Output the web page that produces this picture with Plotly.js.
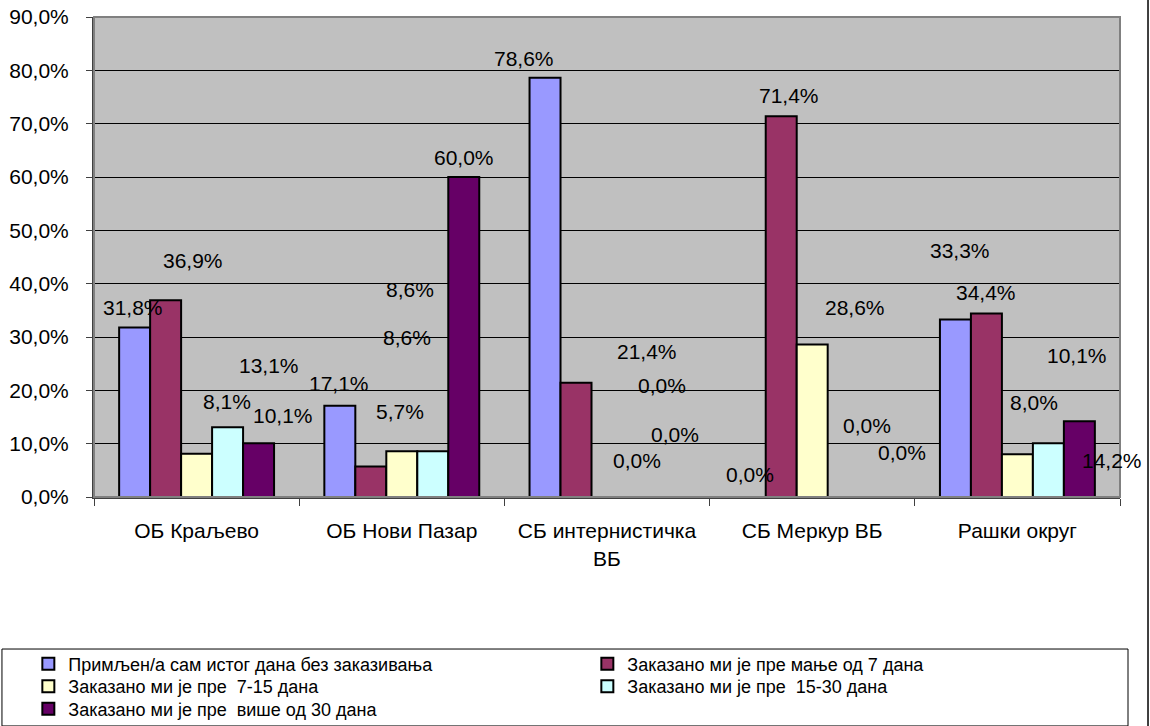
<!DOCTYPE html>
<html>
<head>
<meta charset="utf-8">
<script src="https://cdn.plot.ly/plotly-3.0.1.min.js"></script>
<style>html,body{margin:0;padding:0;background:#fff;}#chart{width:1150px;height:726px;}</style>
</head>
<body>
<div id="chart"></div>
<script>
// ---- data ----
const categories = ['ОБ Краљево', 'ОБ Нови Пазар', 'СБ интернистичка ВБ', 'СБ Меркур ВБ', 'Рашки округ'];
const seriesNames = [
  'Примљен/а сам истог дана без заказивања',
  'Заказано ми је пре мање од 7 дана',
  'Заказано ми је пре  7-15 дана',
  'Заказано ми је пре  15-30 дана',
  'Заказано ми је пре  више од 30 дана'
];
const sameDay     = [31.8, 17.1, 78.6, 0.0, 33.3];
const lessThan7   = [36.9, 5.7, 21.4, 71.4, 34.4];
const days7to15   = [8.1, 8.6, 0.0, 28.6, 8.0];
const days15to30  = [13.1, 8.6, 0.0, 0.0, 10.1];
const moreThan30  = [10.1, 60.0, 0.0, 0.0, 14.2];
const yTicks = [0, 10, 20, 30, 40, 50, 60, 70, 80, 90];

// ---- styling ----
const seriesValues = [sameDay, lessThan7, days7to15, days15to30, moreThan30];
const colors = ['#9999FF', '#993366', '#FFFFCC', '#CCFFFF', '#660066'];
const legendRow = ['legend', 'legend', 'legend2', 'legend2', 'legend3'];
const FONT = 'Liberation Sans, Arial, sans-serif';
const fmt = v => v.toFixed(1).replace('.', ',') + '%';

// label placement (as in original, labels are displaced from the bars) [xCategoryOffset, yValue]
const labelPlacement = [
  [[-0.31, 35.6], [0.694, 21.2], [1.596, 82.3], [2.697, 4.3], [3.720, 46.3]],
  [[-0.02, 44.4], [0.991, 16.1], [2.195, 27.2], [2.887, 75.2], [3.847, 38.4]],
  [[0.148, 18.0], [1.025, 30.0], [2.146, 6.9], [3.209, 35.6], [4.081, 17.8]],
  [[0.353, 24.6], [1.040, 39.0], [2.268, 21.0], [3.267, 13.5], [4.290, 26.6]],
  [[0.421, 15.2], [1.303, 63.75], [2.331, 11.8], [3.438, 8.4], [4.461, 6.9]]
];

const traces = seriesValues.map((vals, i) => ({
  type: 'bar',
  name: seriesNames[i],
  x: categories,
  y: vals,
  legend: legendRow[i],
  marker: {color: colors[i], line: {color: '#000', width: 2}},
  hoverinfo: 'x+y+name'
}));

const annotations = [];
seriesValues.forEach((vals, i) => {
  vals.forEach((v, j) => {
    annotations.push({
      x: labelPlacement[i][j][0], y: labelPlacement[i][j][1],
      xref: 'x', yref: 'y', text: fmt(v), showarrow: false,
      font: {family: FONT, size: 21, color: '#000'}
    });
  });
});

const tickText = categories.map(c => c.replace('интернистичка ВБ', 'интернистичка<br>ВБ'));

const legendBase = y => ({
  orientation: 'h', x: -0.064, xanchor: 'left', y: y, yanchor: 'top',
  entrywidth: 514, entrywidthmode: 'pixels',
  font: {family: FONT, size: 18, color: '#000'},
  bgcolor: 'rgba(0,0,0,0)', borderwidth: 0, traceorder: 'normal'
});

const layout = {
  width: 1150, height: 726,
  margin: {l: 94, r: 30, t: 17, b: 229, autoexpand: false},
  paper_bgcolor: '#fff', plot_bgcolor: '#C0C0C0',
  showlegend: true,
  barmode: 'group', bargap: 0.245, bargroupgap: 0,
  font: {family: FONT, size: 21, color: '#000'},
  xaxis: {
    type: 'category', tickvals: categories, ticktext: tickText,
    ticks: 'outside', tickson: 'boundaries', ticklen: 7, tickcolor: '#404040', tickwidth: 1,
    showline: true, linecolor: '#404040', linewidth: 2,
    showgrid: false, ticklabelstandoff: 14,
    tickfont: {family: FONT, size: 21, color: '#000'},
    range: [-0.5, 4.5], fixedrange: true, automargin: false
  },
  yaxis: {
    range: [0, 90], tickvals: yTicks, ticktext: yTicks.map(fmt),
    ticks: 'outside', ticklen: 6, tickcolor: '#404040', tickwidth: 1,
    showline: true, linecolor: '#404040', linewidth: 2,
    showgrid: true, gridcolor: '#000', gridwidth: 1, zeroline: false,
    ticklabelstandoff: 13,
    tickfont: {family: FONT, size: 21, color: '#000'}, fixedrange: true, automargin: false
  },
  legend: legendBase(-0.3096),
  legend2: legendBase(-0.3565),
  legend3: legendBase(-0.4033),
  annotations: annotations,
  shapes: [
    {type: 'rect', xref: 'paper', yref: 'paper', x0: 0, x1: 1, y0: 0, y1: 1,
     line: {color: '#808080', width: 2}, layer: 'above'},
    {type: 'rect', xref: 'paper', yref: 'paper', x0: -0.0897, x1: 1.0078, y0: -0.477, y1: -0.3167,
     line: {color: '#000', width: 1}, layer: 'below'},
    {type: 'line', xref: 'paper', yref: 'paper', x0: 1.0273, x1: 1.0273, y0: -0.48, y1: 1.04,
     line: {color: '#000', width: 1.5}}
  ]
};

Plotly.newPlot('chart', traces, layout, {displayModeBar: false, staticPlot: true});
</script>
</body>
</html>
